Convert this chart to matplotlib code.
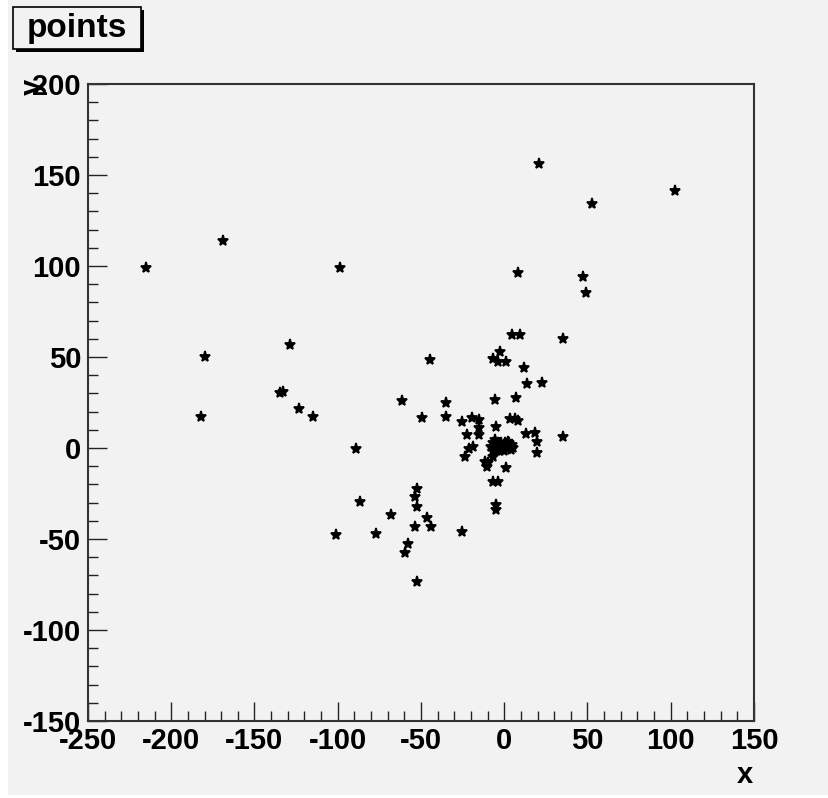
import matplotlib
matplotlib.use("Agg")
import matplotlib.pyplot as plt
from matplotlib.patches import Rectangle
from matplotlib.ticker import MultipleLocator

plt.rcParams["axes.unicode_minus"] = False

# ---- data ----
outer_x = [21, 102.5, 53, 8, 47, 49, 4.5, 9.5, 35, -2.3, -6.9, -3.9, 1.1, 12.1, 13.9, 22.5,
           -5.5, 7.1, -35, -35, -25.5, -19.5, -15, -15, -15, -22.5, -4.9, 3.5, 6.5, 8.5,
           13.1, 18.5, 19.5, 19.9, 35.1, -18.9, -21, -23.5, -11.5, -9.5, -10.2, -6.9, 1.1,
           -6.5, -3.9, -4.9, -4.9, -44.6]
outer_y = [156, 141, 134, 96, 94, 85, 62, 62, 60, 53, 48.7, 47.4, 47.4, 43.7, 35, 35.5,
           26.4, 27.6, 24.6, 16.9, 14.5, 16.6, 15.4, 10.8, 7.1, 7.1, 11.7, 16.1, 15.8, 15,
           7.7, 8.1, 3.5, -2.9, 5.9, 0.7, -0.7, -5.1, -7.5, -8.4, -10.3, -4.8, -11.2,
           -18.5, -18.8, -31.3, -34.1, 48.4]

left_x = [-168.7, -215.3, -98.6, -128.6, -179.9, -133, -134.7, -123.2, -114.7, -182,
          -61.2, -49.2, -89.2, -52.6, -53.6, -52.6, -86.6, -68.2, -46.5, -44.1, -53.6,
          -101.2, -77.2, -57.6, -59.6, -52.6, -25.3]
left_y = [113.9, 99.1, 99.1, 56.4, 50.2, 30.8, 30.1, 21.3, 17.2, 17.2,
          26, 16.6, -0.5, -22.7, -26.8, -32.3, -29.5, -36.8, -38.3, -43.2, -43.2,
          -47.8, -47.3, -52.9, -57.9, -73.5, -45.9]

core_x = [-8, -7, -6, -5.5, -5, -4, -3.5, -3, -2, -1.5, -1, 0, 0.5, 1, 1.5, 2, 2.5, 3,
          3.5, 4, 4.5, 5, -6.5, -2.5, 0, 2, -4.5, 1]
core_y = [0.5, 2.5, -1, 4.5, 1, 3, -0.5, 1.5, 2.5, 0, -1, 1.5, 3, 0, 2, -0.5, 1, 2.5,
          0.5, -1, 1.5, 0, -1.5, -1.5, -1.5, 3.5, -1.5, 0.8]

x_ticks = [-250, -200, -150, -100, -50, 0, 50, 100, 150]
y_ticks = [-150, -100, -50, 0, 50, 100, 150, 200]
title = "points"
x_title = "x"
y_title = "y"

W, H = 829, 798
BG = "#f2f2f2"
FONT = "Liberation Sans"

fig = plt.figure(figsize=(W / 100, H / 100), dpi=100, facecolor="white")
# canvas background
fig.patches.append(Rectangle((8 / W, 3 / H), 1 - 8 / W, 1 - 3 / H, transform=fig.transFigure,
                             facecolor=BG, edgecolor="none", zorder=-10))

ax = fig.add_axes([88 / W, 1 - 721 / H, (754 - 88) / W, (721 - 84) / H])
ax.set_facecolor(BG)

all_x = outer_x + left_x + core_x
all_y = outer_y + left_y + core_y
ax.plot(all_x, all_y, linestyle="none", marker="*", markersize=8, color="black",
        markeredgewidth=1.3)

ax.set_xlim(-250, 150)
ax.set_ylim(-150, 200)
ax.set_xticks(x_ticks)
ax.set_yticks(y_ticks)
ax.xaxis.set_minor_locator(MultipleLocator(10))
ax.yaxis.set_minor_locator(MultipleLocator(10))
ax.tick_params(which="both", direction="in", top=False, right=False, color="#222222")
ax.tick_params(which="major", length=14, width=1.0, pad=4)
ax.tick_params(which="minor", length=7, width=1.0)
for lab in ax.get_xticklabels() + ax.get_yticklabels():
    lab.set_fontfamily(FONT)
    lab.set_fontweight("bold")
    lab.set_fontsize(21)
ax.tick_params(axis="y", pad=5)
for s in ax.spines.values():
    s.set_color("#333333")
    s.set_linewidth(1.5)

# axis titles
fig.text(745 / W, 1 - 775 / H, x_title, fontfamily=FONT, fontweight="bold", fontsize=21,
         ha="center", va="center")
fig.text(33 / W, 1 - 87 / H, y_title, fontfamily=FONT, fontweight="bold", fontsize=21,
         ha="center", va="center", rotation=90)

# title box with shadow
fig.patches.append(Rectangle((16 / W, 1 - 52 / H), 128 / W, 42 / H, transform=fig.transFigure,
                             facecolor="black", edgecolor="none", zorder=5))
fig.patches.append(Rectangle((13 / W, 1 - 49 / H), 128 / W, 42 / H, transform=fig.transFigure,
                             facecolor=BG, edgecolor="black", linewidth=1.2, zorder=6))
fig.text(77 / W, 1 - 29 / H, title, fontfamily=FONT, fontweight="bold", fontsize=24,
         ha="center", va="center", zorder=7)

fig.savefig("out.png", dpi=100, facecolor="white")
